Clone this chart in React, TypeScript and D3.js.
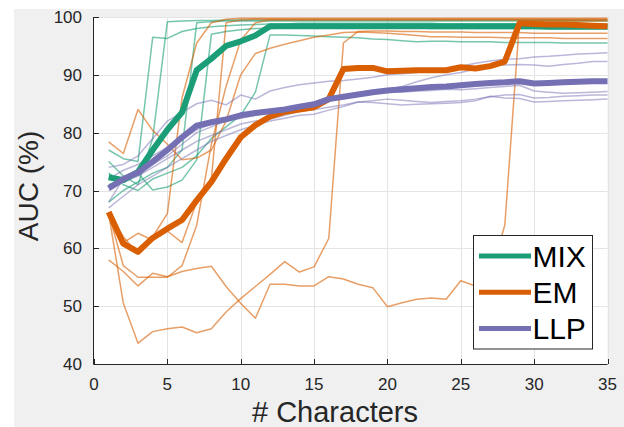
import { useEffect, useRef } from 'react';
import * as d3 from 'd3';

// # characters seen (x axis)
const chars = [1, 2, 3, 4, 5, 6, 7, 8, 9, 10, 11, 12, 13, 14, 15, 16, 17, 18, 19, 20,
  21, 22, 23, 24, 25, 26, 27, 28, 29, 30, 31, 32, 33, 34, 35];

// mean AUC per method
const mixMean = [72.3, 71.8, 73.2, 77, 80.5, 83.5, 90.8, 92.8, 95, 95.8, 96.8, 98.4, 98.4, 98.4, 98.4,
  98.4, 98.4, 98.4, 98.4, 98.4, 98.4, 98.4, 98.4, 98.4, 98.4, 98.4, 98.4, 98.4, 98.4, 98.4,
  98.3, 98.3, 98.3, 98.3, 98.3];
const emMean = [66.3, 60.8, 59.4, 61.8, 63.4, 64.9, 68.3, 71.5, 75.5, 79.2, 81.3, 82.8, 83.6, 84, 84.4,
  85.8, 91, 91.2, 91.2, 90.6, 90.7, 90.8, 90.8, 90.8, 91.3, 91.1, 91.5, 92.3, 98.9, 98.8,
  98.7, 98.7, 98.6, 98.5, 98.4];
const llpMean = [70.4, 72, 73.1, 75, 77, 79.2, 81.2, 81.8, 82.3, 83, 83.4, 83.7, 84, 84.5, 84.9,
  85.8, 86.2, 86.6, 87, 87.3, 87.5, 87.7, 87.9, 88, 88.2, 88.4, 88.6, 88.7, 88.9, 88.5,
  88.6, 88.7, 88.8, 88.9, 88.9];

// individual runs
const mixRuns = [
  [77, 75.5, 75, 96.5, 96.3, 97.5, 98, 98.3, 98.5, 98.6, 98.7, 98.8, 98.8, 98.9, 98.9, 98.9, 98.9, 98.9,
    98.9, 98.9, 98.9, 98.9, 98.9, 98.8, 98.8, 98.8, 98.8, 98.8, 98.8, 98.8, 98.7, 98.7, 98.7, 98.7, 98.7],
  [75, 72.5, 71, 79, 99.2, 99.3, 99.4, 99.4, 99.5, 99.5, 99.5, 99.5, 99.5, 99.5, 99.5, 99.5, 99.5, 99.5,
    99.5, 99.5, 99.5, 99.5, 99.5, 99.5, 99.5, 99.5, 99.5, 99.5, 99.5, 99.5, 99.5, 99.5, 99.5, 99.5, 99.5],
  [68, 70, 71.5, 73, 74, 77, 99, 99.2, 99.3, 99.3, 99.3, 99.3, 99.3, 99.3, 99.3, 99.3, 99.3, 99.3,
    99.3, 99.3, 99.3, 99.3, 99.3, 99.3, 99.3, 99.3, 99.3, 99.3, 99.3, 99.3, 99.3, 99.3, 99.3, 99.3, 99.3],
  [71, 72, 73, 70.1, 70.6, 71.8, 75.3, 97, 97.5, 97.8, 98, 98, 98.1, 98.1, 98.1, 98.1, 98.1, 98.1,
    98.1, 98.1, 98.1, 98.1, 98, 98, 98, 98, 98, 98, 98, 98, 98, 98, 98, 98, 98],
  [73, 71, 70, 72, 73, 74, 76, 79, 81, 83, 87, 96.9, 96.9, 96.8, 96.7, 96.6, 96.5, 96.4,
    96.2, 96.1, 95.9, 95.7, 95.8, 95.8, 95.7, 95.7, 95.7, 95.6, 95.6, 95.6, 95.6, 95.5, 95.5, 95.5, 95.5],
];
const emRuns = [
  [78.4, 76.4, 84, 80.4, 78, 75.3, 75.6, 77, 82, 90, 93.7, 94.6, 95.3, 95.9, 96.5, 96.9, 97.3, 97.4,
    97.3, 97.2, 97, 96.8, 96.6, 96.6, 96.5, 96.5, 96.5, 96.4, 96.4, 96.4, 96.4, 96.3, 96.3, 96.3, 96.3],
  [66, 62, 59, 62, 66, 86, 95.5, 99, 99.6, 99.8, 99.8, 99.8, 99.8, 99.8, 99.8, 99.8, 99.8, 99.8,
    99.8, 99.8, 99.8, 99.8, 99.8, 99.8, 99.8, 99.8, 99.8, 99.8, 99.8, 99.8, 99.8, 99.8, 99.8, 99.8, 99.8],
  [66, 61, 62.6, 61.4, 63, 61, 68, 72, 99, 99.5, 99.6, 99.6, 99.6, 99.6, 99.6, 99.6, 99.6, 99.6,
    99.6, 99.6, 99.6, 99.6, 99.6, 99.6, 99.6, 99.6, 99.6, 99.6, 99.6, 99.6, 99.6, 99.6, 99.6, 99.6, 99.6],
  [66, 50.5, 43.6, 45.6, 46.1, 46.4, 45.4, 46.1, 49, 51.3, 53.4, 55.5, 57.7, 55.9, 56.8, 61.7, 95.5, 97.5,
    97.6, 97.6, 97.5, 97.5, 97.4, 97.4, 97.4, 97.3, 97.3, 97.3, 97.3, 97.2, 97.2, 97.2, 97.2, 97.2, 97.2],
  [58, 56, 53.5, 55.7, 55.1, 56, 56.5, 56.9, 53.4, 50.5, 47.9, 53.8, 53.8, 53.5, 53.5, 55.1, 54.7, 53.8,
    53.2, 49.9, 50.6, 51.2, 51.4, 51.2, 54.4, 53.5, 55.5, 64, 99.2, 99.3, 99.3, 99.3, 99.3, 99.3, 99.3],
  [66, 57, 55, 55, 55, 57, 64, 78, 88, 96, 99, 99.5, 99.5, 99.5, 99.5, 99.5, 99.5, 99.5,
    99.5, 99.5, 99.5, 99.5, 99.5, 99.5, 99.5, 99.5, 99.5, 99.5, 99.5, 99.5, 99.5, 99.5, 99.5, 99.5, 99.5],
];
const llpRuns = [
  [74, 74.5, 76, 79, 82, 83.5, 85, 85.6, 84.8, 86.5, 85.8, 87.2, 87.8, 88.3, 88.6, 88.9, 89, 89.3,
    89.6, 90, 90.2, 90.4, 90.6, 91, 91.5, 92, 92.4, 92.7, 92.8, 93.1, 93.2, 93.4, 93.6, 93.7, 93.8],
  [72, 73.5, 74.5, 76, 77.5, 79, 80.5, 81.5, 82, 82.5, 83, 83.5, 84, 84.5, 85, 85.5, 86, 86.4,
    86.9, 87.4, 88, 88.8, 89.5, 90, 90.4, 91, 91.7, 91.7, 91.8, 91.7, 91.5, 91.8, 92, 92.3, 92.3],
  [68, 72, 73, 74.5, 76, 78, 80, 81, 82, 83, 83.3, 83.7, 84.2, 84.8, 85, 85.5, 86, 86.5,
    86.8, 87, 87, 87.2, 87.3, 87.5, 87.4, 87.6, 87.8, 88, 88.2, 87.2, 87, 86.8, 86.9, 87, 87.1],
  [70, 71.5, 72.5, 74, 75.5, 77, 78.5, 79.5, 80.5, 81.5, 82, 82.3, 83, 83.7, 84, 84.4, 84.8, 85.3,
    85.5, 85.8, 85.6, 85.4, 85.2, 85.4, 85.5, 85.8, 86.2, 86.5, 86.6, 86, 86.1, 86.3, 86.4, 86.5, 86.5],
  [67, 69, 71, 72.5, 74, 75.5, 77, 78.5, 79.5, 80.5, 81.3, 82, 82.5, 83, 83.2, 83.9, 84.5, 85.3,
    85.2, 85, 84.8, 84.9, 85, 85.1, 85.2, 85.5, 86.3, 86, 85.9, 85.3, 85.4, 85.5, 85.6, 85.7, 85.8],
];

const methods = ['MIX', 'EM', 'LLP'];
const colors = ['#1b9e77', '#d95f02', '#7570b3'];
const xTicks = [0, 5, 10, 15, 20, 25, 30, 35];
const yTicks = [40, 50, 60, 70, 80, 90, 100];

export default function App() {
  const svgRef = useRef<SVGSVGElement>(null);

  useEffect(() => {
    if (!svgRef.current) return;
    const svg = d3.select(svgRef.current);
    svg.selectAll('*').remove();

    const W = 624, H = 427;
    const left = 94, right = 607.5, top = 17, bottom = 364;
    const ink = '#262626';
    const font = '"Liberation Sans", Arial, Helvetica, sans-serif';

    svg.attr('width', W).attr('height', H);

    svg.append('rect').attr('width', W).attr('height', H).attr('fill', '#fff');
    svg.append('rect').attr('x', 14).attr('y', 9)
      .attr('width', W - 14).attr('height', H - 9).attr('fill', '#f0f0f0');
    svg.append('rect').attr('x', left).attr('y', top)
      .attr('width', right - left).attr('height', bottom - top).attr('fill', '#fff');

    const x = d3.scaleLinear().domain([0, 35]).range([left, right]);
    const y = d3.scaleLinear().domain([40, 100]).range([bottom, top]);

    // grid
    const grid = svg.append('g').attr('stroke', '#e4e4e4').attr('stroke-width', 1);
    xTicks.slice(1).forEach(t => grid.append('line')
      .attr('x1', Math.round(x(t)) + 0.5).attr('x2', Math.round(x(t)) + 0.5)
      .attr('y1', top).attr('y2', bottom));
    yTicks.slice(1).forEach(t => grid.append('line')
      .attr('y1', Math.round(y(t)) + 0.5).attr('y2', Math.round(y(t)) + 0.5)
      .attr('x1', left).attr('x2', right));

    const line = d3.line<number>()
      .x((_, i) => x(chars[i]))
      .y(d => y(d));

    const plot = svg.append('g');

    // thin per-run lines
    [mixRuns, emRuns, llpRuns].forEach((runs, k) => {
      runs.forEach(r => plot.append('path')
        .attr('d', line(r))
        .attr('fill', 'none')
        .attr('stroke', colors[k])
        .attr('stroke-opacity', k === 2 ? 0.5 : 0.6)
        .attr('stroke-width', 1.5)
        .attr('stroke-linejoin', 'round'));
    });

    // thick mean lines
    [mixMean, emMean, llpMean].forEach((m, k) => plot.append('path')
      .attr('d', line(m))
      .attr('fill', 'none')
      .attr('stroke', colors[k])
      .attr('stroke-width', 6)
      .attr('stroke-linejoin', 'round'));

    // axes
    const axes = svg.append('g').attr('stroke', ink).attr('stroke-width', 1);
    axes.append('line').attr('x1', left - 0.5).attr('x2', left - 0.5).attr('y1', top).attr('y2', bottom + 0.5);
    axes.append('line').attr('x1', left - 0.5).attr('x2', right).attr('y1', bottom + 0.5).attr('y2', bottom + 0.5);
    yTicks.forEach(t => axes.append('line')
      .attr('x1', left).attr('x2', left + 5)
      .attr('y1', Math.round(y(t)) + 0.5).attr('y2', Math.round(y(t)) + 0.5));
    xTicks.forEach(t => axes.append('line')
      .attr('x1', Math.round(x(t)) + 0.5).attr('x2', Math.round(x(t)) + 0.5)
      .attr('y1', bottom).attr('y2', bottom - 5));

    svg.selectAll('.ytl').data(yTicks).enter().append('text')
      .attr('x', 82).attr('y', d => y(d) + 6)
      .attr('text-anchor', 'end')
      .attr('font-family', font).attr('font-size', '17px').attr('fill', ink)
      .text(d => d);

    svg.selectAll('.xtl').data(xTicks).enter().append('text')
      .attr('x', d => x(d)).attr('y', 390)
      .attr('text-anchor', 'middle')
      .attr('font-family', font).attr('font-size', '17px').attr('fill', ink)
      .text(d => d);

    svg.append('text')
      .attr('x', 335).attr('y', 422)
      .attr('text-anchor', 'middle')
      .attr('font-family', font).attr('font-size', '29px').attr('fill', ink)
      .text('# Characters');

    svg.append('text')
      .attr('transform', 'translate(37.5,186) rotate(-90)')
      .attr('text-anchor', 'middle')
      .attr('font-family', font).attr('font-size', '28px').attr('fill', ink)
      .text('AUC (%)');

    // legend
    const lg = svg.append('g');
    lg.append('rect').attr('x', 473.5).attr('y', 235.5).attr('width', 119).attr('height', 113.5)
      .attr('fill', '#fff').attr('stroke', ink).attr('stroke-width', 1);
    methods.forEach((m, k) => {
      const ry = 256 + k * 36.2;
      lg.append('line').attr('x1', 479).attr('x2', 531).attr('y1', ry).attr('y2', ry)
        .attr('stroke', colors[k]).attr('stroke-width', 5);
      lg.append('text').attr('x', 532.5).attr('y', ry + 10.7)
        .attr('font-family', font).attr('font-size', '30px').attr('fill', '#000')
        .text(m);
    });
  }, []);

  return (
    <svg ref={svgRef} style={{ position: 'absolute', left: 0, top: 0, display: 'block' }} />
  );
}
